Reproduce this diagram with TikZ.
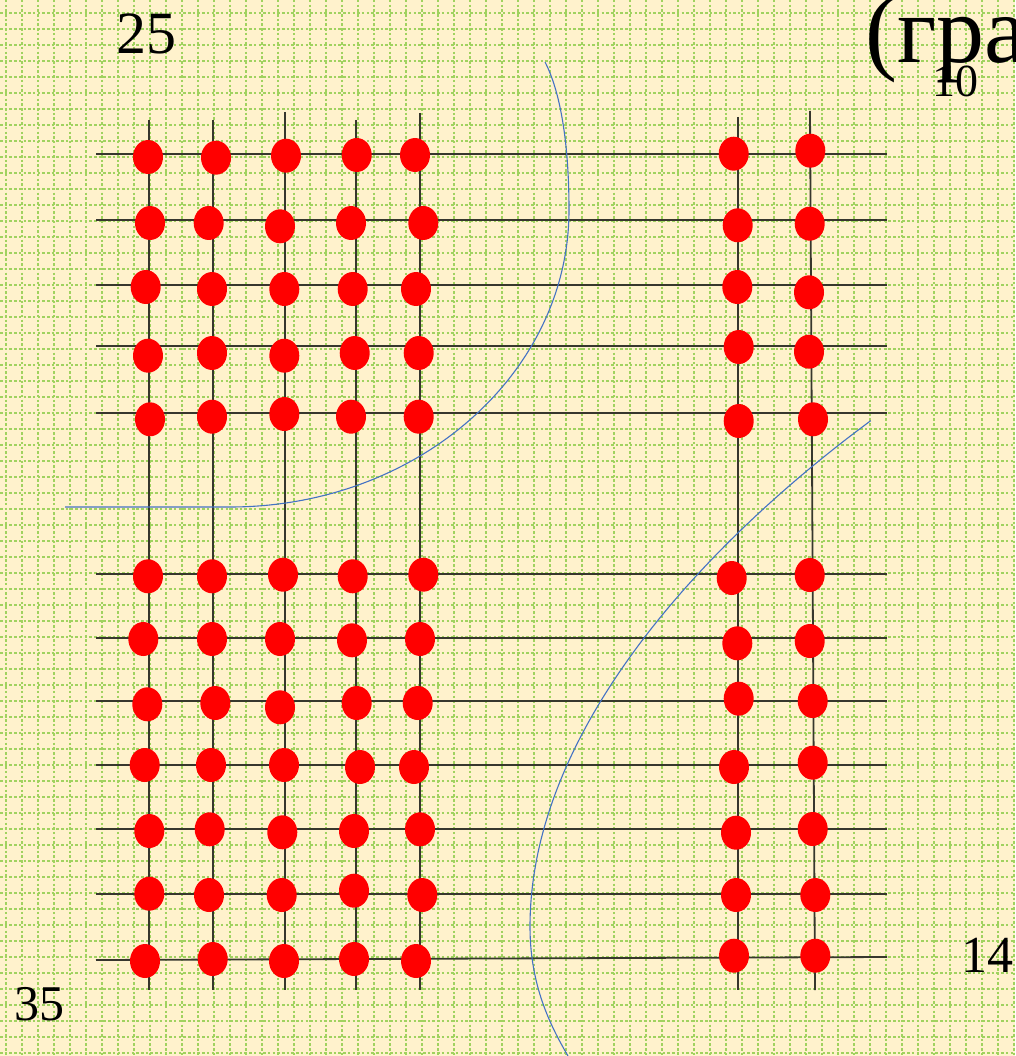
\documentclass[tikz,border=0pt]{standalone}
\usepackage{fontspec}
\setmainfont{Liberation Serif}
\usetikzlibrary{shapes.geometric}
\definecolor{paper}{RGB}{255,242,204}
\definecolor{gridgreen}{RGB}{160,210,95}
\definecolor{wire}{RGB}{55,55,45}
\definecolor{curveblue}{RGB}{68,114,196}
\tikzset{
  reddot/.style={ellipse, fill=red, draw=none, minimum width=30pt, minimum height=34pt, inner sep=0pt},
  gridline/.style={gridgreen, line width=2pt, dash pattern=on 2.5pt off 2.2pt},
  wireline/.style={wire, line width=1.8pt},
  bluecurve/.style={curveblue, line width=1.1pt},
  lbl/.style={inner sep=0pt, anchor=base west, text=black}
}
\begin{document}
\begin{tikzpicture}[x=1pt, y=-1pt]
\useasboundingbox (0,0) rectangle (1015,1056);
\clip (0,0) rectangle (1015,1056);
\fill[paper] (0,0) rectangle (1015,1056);
% background grid
\foreach \i in {0,...,63} { \draw[gridline] (6+16*\i,0) -- (6+16*\i,1056); }
\foreach \j in {0,...,65} { \draw[gridline] (0,13+16*\j) -- (1015,13+16*\j); }
% horizontal wires
\foreach \y in {154,220,285,346,413,574,638,701,765,829,894} {
  \draw[wireline] (96,\y) -- (887,\y);
}
\draw[wireline] (96,960) -- (887,957);
% vertical wires
\draw[wireline] (149,120) -- (149,990);
\draw[wireline] (213,120) -- (213,990);
\draw[wireline] (285,112) -- (285,990);
\draw[wireline] (356,120) -- (356,990);
\draw[wireline] (420,113) -- (420,990);
\draw[wireline] (738,117) -- (738,990);
\draw[wireline] (810,111) -- (815,990);
% dots
\foreach \x/\y [count=\n] in {
148/157, 216/157.7, 286/155.7, 356.7/155, 415/155, 733.7/153.7, 810.3/150.7,
150/223, 208.7/223, 280/226.3, 351/223, 423.3/223, 737.7/225.3, 809.7/223.7,
145.7/287, 212/289, 284.3/289, 352.7/289, 416/289, 737.3/287, 809/292.3,
148/355.7, 212/353, 284.3/355.7, 354.7/353, 418.7/353, 738.7/347, 809/351.7,
150/419.3, 212/416.7, 284.3/414, 351/416.7, 418.7/416.7, 738.7/421, 813/419.3,
148/576.3, 212/576.3, 283/574.7, 352.7/576.3, 423.3/574.7, 731.7/578, 809.7/575,
143.3/639, 212/639, 280/639, 352/640.3, 420/639, 737.3/643.3, 809.7/641,
147.3/704.3, 215.3/703, 280/707.3, 356.7/703, 417.7/703, 738.7/698.7, 812.7/701,
144.7/765, 211/765, 284/765, 360/767, 414/767, 734/767, 812.7/762.7,
149.3/831, 209.7/829.3, 282.3/832.3, 354/831, 420/829.3, 736/832.7, 812.7/829,
149.3/893.7, 209/895, 281.7/895, 354/890.7, 422.3/895, 736/895, 815.3/895,
145/961, 212.7/959, 284/961, 354/959, 416/961, 734/955.7, 815.3/955.7}
{ \node[reddot] (dot\n) at (\x,\y) {}; }
% blue curves
\draw[bluecurve] (545,62) .. controls (562,95) and (569,150) .. (569,210)
  arc[start angle=0, end angle=90, x radius=339, y radius=297] -- (65,507);
\draw[bluecurve] (870.7,420.7) .. controls (710,539.3) and (530,726.7) .. (530,926.7)
  .. controls (530,985) and (550,1025) .. (568,1056);
% labels
\node[lbl, font=\fontsize{60}{60}\selectfont] (t25) at (116,54) {25};
\node[lbl, font=\fontsize{96}{96}\selectfont] (tgra) at (865,63) {(гра};
\node[lbl, font=\fontsize{46}{46}\selectfont] (t10) at (932,97) {10};
\node[lbl, font=\fontsize{50}{50}\selectfont] (t35) at (14,1020) {35};
\node[lbl, font=\fontsize{52}{52}\selectfont] (t14) at (961,972) {14};
\end{tikzpicture}
\end{document}
